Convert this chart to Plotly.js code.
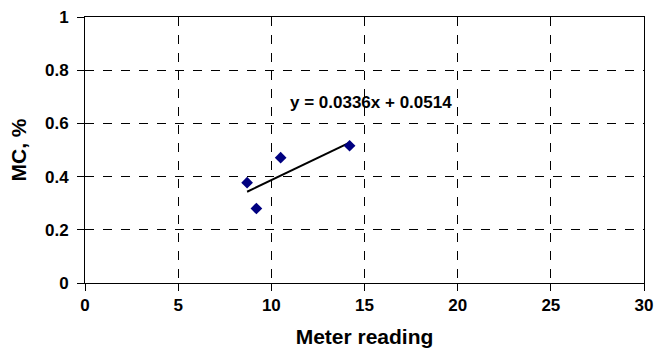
<!DOCTYPE html>
<html><head><meta charset="utf-8">
<script src="https://cdn.plot.ly/plotly-3.0.1.min.js"></script>
<style>html,body{margin:0;padding:0;background:#fff}#chart{width:656px;height:348px}</style>
</head><body><div id="chart"></div>
<script>
var meterReading = [8.7, 9.2, 10.5, 14.2];
var mcPercent = [0.377, 0.280, 0.471, 0.516];
var trendX = [8.7, 14.2];
var trendY = [0.343, 0.528];
var equationText = "y = 0.0336x + 0.0514";
var xTicks = [0, 5, 10, 15, 20, 25, 30];
var xTickText = ["0", "5", "10", "15", "20", "25", "30"];
var yTicks = [0, 0.2, 0.4, 0.6, 0.8, 1];
var yTickText = ["0", "0.2", "0.4", "0.6", "0.8", "1"];

var font = "Liberation Sans, Arial, sans-serif";
function b(s) { return "<b>" + s + "</b>"; }
var data = [
  {x: trendX, y: trendY, type: "scatter", mode: "lines", line: {color: "#000", width: 2}, hoverinfo: "skip"},
  {x: meterReading, y: mcPercent, type: "scatter", mode: "markers",
   marker: {symbol: "diamond", size: 9, color: "#000080"}}
];
var axisCommon = {
  showline: true, linecolor: "#000", linewidth: 1, mirror: true,
  showgrid: true, gridcolor: "#000", griddash: "dash", gridwidth: 1,
  ticks: "outside", ticklen: 7, tickcolor: "#000", zeroline: false,
  tickfont: {family: font, size: 17, color: "#000", weight: "bold"}
};
var layout = {
  width: 656, height: 348,
  margin: {l: 85, r: 12, t: 17, b: 65},
  paper_bgcolor: "#fff", plot_bgcolor: "#fff",
  showlegend: false,
  xaxis: Object.assign({}, axisCommon, {range: [0, 30], tickvals: xTicks, ticktext: xTickText.map(b),
    title: {text: b("Meter reading"), font: {family: font, size: 21, color: "#000"}, standoff: 15}}),
  yaxis: Object.assign({}, axisCommon, {range: [0, 1], tickvals: yTicks, ticktext: yTickText.map(b),
    ticklabelstandoff: 5,
    title: {text: b("MC, %"), font: {family: font, size: 21, color: "#000"}, standoff: 12}}),
  annotations: [{x: 15.35, y: 0.677, xref: "x", yref: "y", text: b(equationText), showarrow: false,
    font: {family: font, size: 17, color: "#000"}}]
};
Plotly.newPlot("chart", data, layout, {displayModeBar: false, staticPlot: true});
</script></body></html>
